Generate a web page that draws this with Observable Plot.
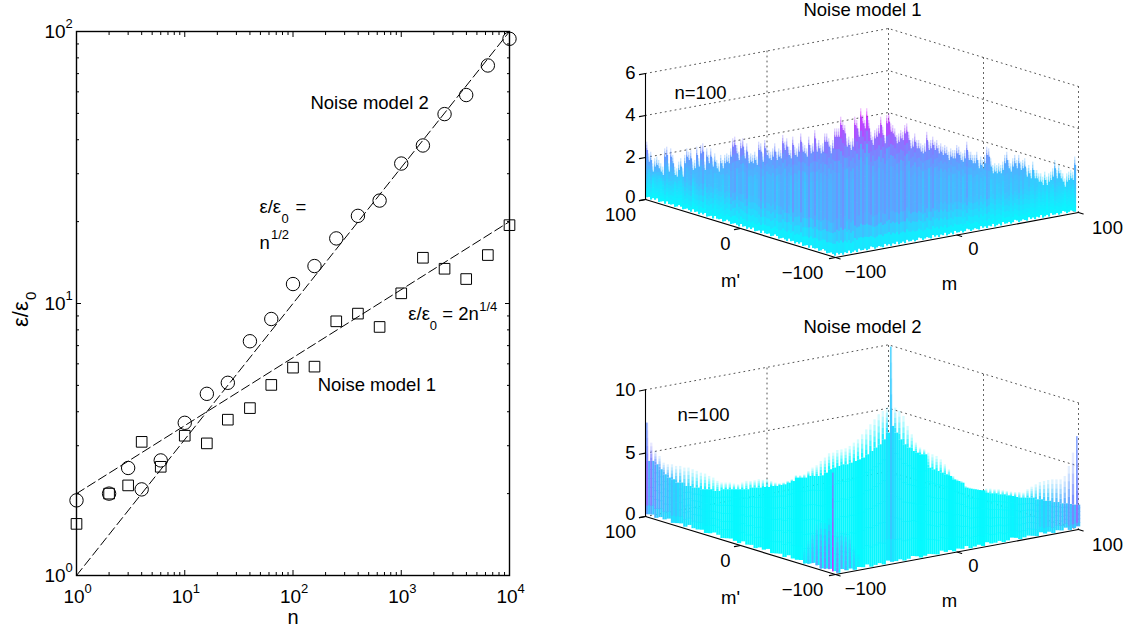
<!DOCTYPE html>
<html>
<head>
<meta charset="utf-8">
<script src="https://cdn.jsdelivr.net/npm/d3@7"></script>
<script src="https://cdn.jsdelivr.net/npm/@observablehq/plot@0.6"></script>
<style>
  html, body { margin: 0; padding: 0; background: #fff; }
  #page { position: relative; width: 1125px; height: 630px; overflow: hidden; }
  #page > svg { position: absolute; overflow: visible; }
  g[aria-label="rect"] { filter: blur(0.45px); }
</style>
</head>
<body>
<div id="page"></div>
<script>
// ---- left panel values ----
const nValues = [1,2,3,4,6,10,16,25,40,63,100,158,251,398,631,1000,1585,2512,3981,6310,10000];
const model2 = [1.889,2.0,2.485,2.073,2.649,3.642,4.655,5.11,7.265,8.77,11.79,13.73,17.35,21.0,23.9,32.7,38.1,49.7,58.4,75.0,94.0];
const model1 = [1.548,2.0,2.144,3.10,2.51,3.265,3.06,3.74,4.125,5.02,5.81,5.86,8.6,9.18,8.2,10.9,14.73,13.42,12.3,15.07,19.41];
const fitN = [1, 10000];
const fitSqrt = [1, 100];
const fitQuarter = [2, 20];
const xMajor = [1,10,100,1000,10000];
const xMinor = [2,3,4,5,6,7,8,9,20,30,40,50,60,70,80,90,200,300,400,500,600,700,800,900,2000,3000,4000,5000,6000,7000,8000,9000];
const yMajor = [1,10,100];
const yMinor = [2,3,4,5,6,7,8,9,20,30,40,50,60,70,80,90];
const xExp = ["0","1","2","3","4"];
const yExp = ["0","1","2"];

// ---- right panels: apparent height of the surface outline, read column by column ----
const outline1 = [
2.73,2.17,2.25,1.70,1.94,2.02,1.86,1.70,1.54,2.41,2.49,1.70,2.41,2.10,1.54,1.46,1.78,1.94,1.46,2.10,2.41,2.25,2.33,1.78,1.86,2.49,1.94,2.57,2.65,1.78,2.41,2.10,2.41,1.94,2.17,1.86,1.70,2.10,1.86,2.10,2.17,2.10,2.41,2.89,2.97,2.57,2.25,2.81,2.89,2.33,2.65,2.10,2.17,2.10,2.25,2.02,2.73,2.65,2.17,2.81,2.49,2.33,2.25,2.41,2.65,2.25,2.41,2.33,3.05,2.73,2.89,
2.49,2.33,2.97,2.49,2.41,2.65,3.12,2.65,2.57,2.41,2.97,2.57,2.65,3.28,2.65,2.81,2.57,2.65,3.12,3.12,2.89,2.57,2.81,3.36,3.36,3.36,3.92,3.68,3.52,2.89,2.97,2.73,2.89,3.92,3.76,3.36,4.32,4.0,3.76,4.32,3.76,3.2,2.97,3.28,3.36,3.52,3.92,3.44,3.05,4.0,4.08,3.6,3.52,3.36,3.05,3.12,3.28,3.2,3.52,3.6,3.2,2.81,2.89,3.12,2.81,2.81,2.65,2.57,2.65,3.2,2.73,2.81,
2.97,2.73,2.81,2.57,2.65,2.49,2.57,2.49,2.25,2.41,2.33,2.33,2.57,2.49,2.25,2.17,2.33,2.73,2.25,2.25,2.10,2.10,2.25,1.86,2.02,1.86,2.10,2.49,2.41,1.94,1.62,1.70,1.62,1.70,1.62,1.78,2.10,2.25,1.86,1.70,1.94,2.10,1.86,2.10,1.78,1.86,1.94,1.46,1.62,1.38,1.78,1.38,1.38,1.22,1.22,1.06,1.30,1.06,1.22,1.30,1.46,1.86,1.38,1.62,1.38,1.22,0.98,1.22,1.30,1.38,1.30,2.02];
const streak1 = [1.05,.9,1.12,.85,1,1.15,.92,.82,1.1,1.02,.88,1.17,.95,1.08,.85,1.12,.98,.8,1.05,1.15,.9,1,1.1,.85,1.02,.95,1.15,.88,1.08,.92,1];

const tips2 = [
7.37,5.79,5.14,4.74,4.21,4.08,4.08,3.95,3.95,3.82,3.82,3.69,3.56,3.42,3.35,3.16,3.03,2.77,2.64,2.64,2.64,2.56,2.50,2.64,2.77,2.77,2.82,2.90,2.85,2.90,2.77,2.64,2.58,2.64,
2.76,2.90,3.21,3.21,3.29,3.55,3.82,4.0,4.34,4.61,4.95,5.0,5.21,5.26,5.34,5.53,5.79,6.05,6.45,6.84,7.24,7.63,8.03,8.29,8.55,13.37,8.55,8.29,7.9,7.11,6.45,5.79,5.4,5.26,
5.0,4.87,4.74,4.47,4.08,3.68,3.16,2.89,2.76,2.37,2.24,2.16,2.11,2.05,2.16,2.16,2.11,2.11,2.03,1.97,1.92,1.89,1.89,1.84,2.11,2.31,2.50,2.68,2.76,2.84,2.89,2.89,2.89,3.16,3.95,5.0,6.3];
const body2 = [
4.35,4.35,4.08,3.69,3.29,3.03,2.90,2.64,2.64,2.37,2.37,2.24,2.24,2.11,2.11,2.11,1.98,1.98,2.11,2.11,2.11,2.11,2.11,2.11,2.11,2.24,2.24,2.24,2.29,2.29,2.37,2.37,2.45,2.50,
2.63,2.76,3.03,3.03,3.03,3.16,3.16,3.16,3.21,3.42,3.69,3.82,3.95,4.08,4.08,4.21,4.34,4.47,4.61,4.87,5.13,5.4,5.66,6.05,6.58,7.11,6.58,6.05,5.66,5.4,5.13,5.0,4.87,4.87,
3.81,3.68,3.55,3.42,3.29,3.16,2.89,2.76,2.63,2.24,2.16,2.11,2.05,2.03,1.84,1.79,1.79,1.71,1.71,1.63,1.58,1.5,1.45,1.45,1.45,1.45,1.32,1.32,1.2,1.2,1.1,1.1,1.0,1.0,0.95,0.9,0.9];
const tone2 = [
.55,.5,.42,.35,.3,.28,.25,.22,.2,.18,.15,.13,.1,.08,.06,.05,.04,.04,.03,.03,.03,.03,.03,.03,.03,.03,.03,.03,.03,.03,.03,.03,.03,.03,
.03,.03,.03,.03,.03,.03,.03,.03,.03,.03,.03,.03,.03,.03,.03,.03,.03,.03,.04,.04,.05,.05,.06,.08,.12,.22,.12,.08,.06,.05,.04,.04,.03,.03,
.03,.03,.03,.03,.03,.03,.03,.03,.03,.03,.03,.03,.03,.03,.03,.03,.03,.03,.04,.04,.05,.06,.07,.08,.1,.13,.15,.18,.2,.22,.25,.28,.3,.34,.38,.45,.55];
const frontIdx = [38,39,40,41,42,43,44,45,46,47,48,49,50,51];
const frontTone = [.12,.2,.3,.35,.4,.45,.5,.92,.45,.35,.35,.3,.2,.1];
const frontRise = [1.2,1.8,2.5,3.2,3.6,3.6,4,7.8,3.2,3,3,2.6,1.8,1];
const footGap = [2,3,1,3,2,4,1,2,3,1,4,2,2,3,1,2,4,3,1,2,3,2,1,4];

const tickM = [-100,0,100];
const tickLabel = ["\u2212100","0","100"];
const zTicks1 = [0,2,4,6];
const zTicks2 = [0,5,10];
const titles = ["Noise model 1","Noise model 2"];

const font = "Liberation Sans, Arial, Helvetica, sans-serif";
const page = document.getElementById("page");

// ---------- left panel ----------
const scatter2 = nValues.map((n,i)=>({n, v:model2[i]}));
const scatter1 = nValues.map((n,i)=>({n, v:model1[i]}));
const fit = (ys)=>fitN.map((n,i)=>({n, v:ys[i]}));
const T = (data, o)=>Plot.text(data, {fill:"black", fontSize:18.5, textAnchor:"start", lineAnchor:"bottom", ...o});
const note = (txt,n,v,o={}) => T([txt],{x:()=>n,y:()=>v,text:d=>d,...o});

const left = Plot.plot({
  width:540, height:630, marginLeft:76, marginRight:31, marginTop:31, marginBottom:55,
  style:{fontFamily:font, background:"transparent"},
  x:{type:"log", domain:[1,10000]},
  y:{type:"log", domain:[1,100]},
  marks:[
    Plot.frame({stroke:"black", strokeWidth:1.4}),
    Plot.axisX(xMajor,{anchor:"bottom",tickSize:-5,text:null,label:null}),
    Plot.axisX(xMajor,{anchor:"top",tickSize:-5,text:null,label:null}),
    Plot.axisX(xMinor,{anchor:"bottom",tickSize:-3,text:null,label:null}),
    Plot.axisX(xMinor,{anchor:"top",tickSize:-3,text:null,label:null}),
    Plot.axisY(yMajor,{anchor:"left",tickSize:-5,text:null,label:null}),
    Plot.axisY(yMajor,{anchor:"right",tickSize:-5,text:null,label:null}),
    Plot.axisY(yMinor,{anchor:"left",tickSize:-3,text:null,label:null}),
    Plot.axisY(yMinor,{anchor:"right",tickSize:-3,text:null,label:null}),
    Plot.line(fit(fitSqrt),{x:"n",y:"v",stroke:"black",strokeWidth:1,strokeDasharray:"9 4"}),
    Plot.line(fit(fitQuarter),{x:"n",y:"v",stroke:"black",strokeWidth:1,strokeDasharray:"9 4"}),
    Plot.dot(scatter1,{x:"n",y:"v",symbol:"square",r:6,stroke:"black",strokeWidth:1,fill:"none"}),
    Plot.dot(scatter2,{x:"n",y:"v",symbol:"circle",r:6.7,stroke:"black",strokeWidth:1,fill:"none"}),
    // x tick labels
    T(xMajor,{x:d=>d,y:()=>1,text:()=>"10",dx:-13,dy:27,fontSize:19}),
    T(xMajor,{x:d=>d,y:()=>1,text:(d,i)=>xExp[i],dx:8,dy:17,fontSize:13}),
    // y tick labels
    T(yMajor,{x:()=>1,y:d=>d,text:()=>"10",dx:-32,dy:6,fontSize:19}),
    T(yMajor,{x:()=>1,y:d=>d,text:(d,i)=>yExp[i],dx:-11,dy:-4,fontSize:13}),
    note("n",100,1,{dy:48,textAnchor:"middle",fontSize:20}),
    note("\u03b5/\u03b5",1,8.2,{dx:-49,rotate:-90,fontSize:22}),
    note("0",1,8.2,{dx:-41,dy:-27,rotate:-90,fontSize:15}),
    // annotations
    note("Noise model 2",145,51.7),
    note("Noise model 1",169,4.77),
    note("\u03b5/\u03b5",49,21.5),
    note("0",49,21.5,{dx:22,dy:10,fontSize:13}),
    note("=",49,21.5,{dx:36}),
    note("n",49,15.85),
    note("1/2",49,15.85,{dx:11.5,dy:-10,fontSize:13}),
    note("\u03b5/\u03b5",1161,8.7),
    note("0",1161,8.7,{dx:21.5,dy:10,fontSize:13}),
    note("= 2n",1161,8.7,{dx:34}),
    note("1/4",1161,8.7,{dx:71,dy:-9,fontSize:13})
  ]
});
left.style.left="0px"; left.style.top="0px";
page.appendChild(left);

// ---------- right panels ----------
const proj = (m,p,z,k)=>({u:835+(m+100)/200*243-(p+100)/200*190, v:257-(m+100)/200*45-(p+100)/200*58-k*z});
const baseEdge = u => u<835 ? 199+(u-645)/190*58 : 257-(u-835)/243*45;

function piece(out,u0,u1,v0,v1,t,o){ out.push({u0,u1,v0,v1,t,o}); }

function surface1(k){
  const out=[];
  outline1.forEach((h,i)=>{
    const u=646+2*i, top=199-k*h, bot=baseEdge(u)-footGap[i%footGap.length];
    const tTop=Math.min(1,Math.pow(h/5,1.3)+0.02);
    const tMid=Math.min(0.36,0.45*tTop+0.1)*streak1[i%streak1.length];
    const tipStart=top+9, n=10;
    for(let j=0;j<n;j++){
      const f0=j/n, f1=(j+1)/n;
      const v0=bot+(tipStart-bot)*f0, v1=bot+(tipStart-bot)*f1;
      const dist=bot-(v0+v1)/2, fm=(f0+f1)/2;
      const lower=0.03+(tMid-0.03)*Math.min(1,dist/32);
      const t=fm<0.72?lower:lower+(tTop-lower)*(fm-0.72)/0.28;
      piece(out,u,u+2.1,v0,v1-0.7,t,1);
    }
    [.8,.55,.3].forEach((o,j)=>piece(out,u,u+1.4,tipStart-3*j,tipStart-3*(j+1),tTop,o));
  });
  return out;
}

function surface2(k){
  const out=[], w=430/(tips2.length-1);
  const y0=199;
  tips2.forEach((tip,i)=>{
    const u=646+w*i, bot=baseEdge(u)-footGap[i%footGap.length];
    const top=y0-k*body2[i], tone=tone2[i];
    const n=6;
    for(let j=0;j<n;j++){
      const f0=j/n,f1=(j+1)/n,t=tone*(0.35+0.65*Math.min(1,f1*3));
      const v0=bot+(top-bot)*f0,v1=bot+(top-bot)*f1-(j<n-1?0.7:0);
      piece(out,u,u+w/2+.1,v0,v1,t,1);
      piece(out,u+w/2,u+w+.1,v0,v1,t*0.6+0.01,1);
    }
    const tipTop=y0-k*tip, hs=[.92,.72,.52,.34,.18];
    hs.forEach((o,j)=>{
      const v0=top+(tipTop-top)*j/hs.length, v1=top+(tipTop-top)*(j+1)/hs.length;
      piece(out,u,u+w/2+.2,v0,v1,Math.max(tone,.03),o);
    });
  });
  return out;
}

function front2(k){
  const out=[], w=430/(tips2.length-1);
  frontIdx.forEach((idx,i)=>{
    const u=646+w*idx, bot=baseEdge(u+1)-footGap[idx%footGap.length], top=bot-k*frontRise[i];
    const n=8, wide=i===7?1.5:w/2+.3;
    for(let j=0;j<n;j++){
      const f=(j+.5)/n;
      const v0=bot+(top-bot)*j/n, v1=bot+(top-bot)*(j+1)/n;
      piece(out,u,u+wide,v0,v1,i===7?frontTone[i]*(1-0.55*f):frontTone[i],i===7?0.95:0.95*(1-f*f));
    }
  });
  return out;
}

function spikes2(k){
  const out=[], w=430/(tips2.length-1);
  [[0,.42],[59,.2],[104,.42]].forEach(([i,t])=>{
    const u=646+w*i, top=199-k*tips2[i], bot=199-k*body2[i];
    piece(out,u,u+1.6,bot,top,t,0.75);
  });
  return out;
}

function panel(index, zTicks, k, segs, top, noteDy){
  const zMax=zTicks[zTicks.length-1];
  const guides=[];
  zTicks.forEach(z=>{
    const a=proj(-100,100,z,k), b=proj(100,100,z,k), c=proj(100,-100,z,k);
    guides.push({...a,id:"z"+z},{...b,id:"z"+z},{...c,id:"z"+z});
  });
  [[0,100],[100,100],[100,0],[100,-100]].forEach(([m,p],i)=>{
    guides.push({...proj(m,p,0,k),id:"v"+i},{...proj(m,p,zMax,k),id:"v"+i});
  });
  const solid=[
    {...proj(-100,100,0,k),id:"a"},{...proj(-100,-100,0,k),id:"a"},{...proj(100,-100,0,k),id:"a"},
    {...proj(-100,100,0,k),id:"b"},{...proj(-100,100,zMax,k),id:"b"}
  ];
  tickM.forEach(t=>{
    solid.push({...proj(-100,t,0,k),id:"tp"+t},{...proj(-105,t,0,k),id:"tp"+t});
    solid.push({...proj(t,-100,0,k),id:"tm"+t},{...proj(t,-105,0,k),id:"tm"+t});
  });
  zTicks.forEach(z=>{
    solid.push({...proj(-100,100,z,k),id:"tz"+z},{...proj(-105,100,z,k),id:"tz"+z});
  });
  const pLabels=tickM.map((t,i)=>({...proj(-100,t,0,k),s:tickLabel[i],dx:[-33,-15,-25][i]}));
  const mLabels=tickM.map((t,i)=>({...proj(t,-100,0,k),s:tickLabel[i],dx:[30,16.5,29][i],dy:[15,14.5,16][i]}));
  const zLabels=zTicks.map(z=>({...proj(-100,100,z,k),s:String(z),lift:z===0?-2:0}));
  const mid=Plot.text, fs=18.5;
  const svg=Plot.plot({
    width:535,height:313,margin:0,
    style:{fontFamily:font, background:"transparent"},
    x:{domain:[590,1125],range:[0,535],axis:null},
    y:{domain:[0,313],range:[0,313],axis:null},
    color:{type:"linear",domain:[0,1],range:["#00ffff","#ff00ff"],interpolate:"rgb"},
    opacity:{type:"identity"},
    marks:[
      Plot.line(guides,{x:"u",y:"v",z:"id",stroke:"#555",strokeWidth:1,strokeDasharray:"1 4"}),
      Plot.rect(segs,{x1:"u0",x2:"u1",y1:"v0",y2:"v1",fill:"t",fillOpacity:"o"}),
      Plot.line(solid,{x:"u",y:"v",z:"id",stroke:"black",strokeWidth:1.1}),
      mid(zLabels.filter(d=>d.lift===0),{x:"u",y:"v",text:"s",dx:-10,textAnchor:"end",fontSize:fs,fill:"black"}),
      mid(zLabels.filter(d=>d.lift!==0),{x:"u",y:"v",text:"s",dx:-10,dy:-2,textAnchor:"end",fontSize:fs,fill:"black"}),
      mid([titles[index]],{x:()=>862,y:()=>10,text:d=>d,fontSize:fs,fill:"black",textAnchor:"middle"}),
      mid(["n=100"],{x:()=>700+(index?3:0),y:()=>93+noteDy,text:d=>d,fontSize:fs,fill:"black",textAnchor:"middle"}),
      mid(["m'"],{x:()=>730,y:()=>281,text:d=>d,fontSize:fs,fill:"black",textAnchor:"middle"}),
      mid(["m"],{x:()=>949,y:()=>284,text:d=>d,fontSize:fs,fill:"black",textAnchor:"middle"}),
      ...pLabels.map(l=>mid([l],{x:"u",y:"v",text:"s",dx:l.dx,dy:16,fontSize:fs,fill:"black",textAnchor:"middle"})),
      ...mLabels.map(l=>mid([l],{x:"u",y:"v",text:"s",dx:l.dx,dy:l.dy,fontSize:fs,fill:"black",textAnchor:"middle"}))
    ]
  });
  svg.style.left="590px"; svg.style.top=top+"px";
  page.appendChild(svg);
}

const k1=21, k2=12.67;
panel(0,zTicks1,k1,surface1(k1),0,0);
panel(1,zTicks2,k2,[...surface2(k2),...front2(k2),...spikes2(k2)],317,5);
</script>
</body>
</html>
